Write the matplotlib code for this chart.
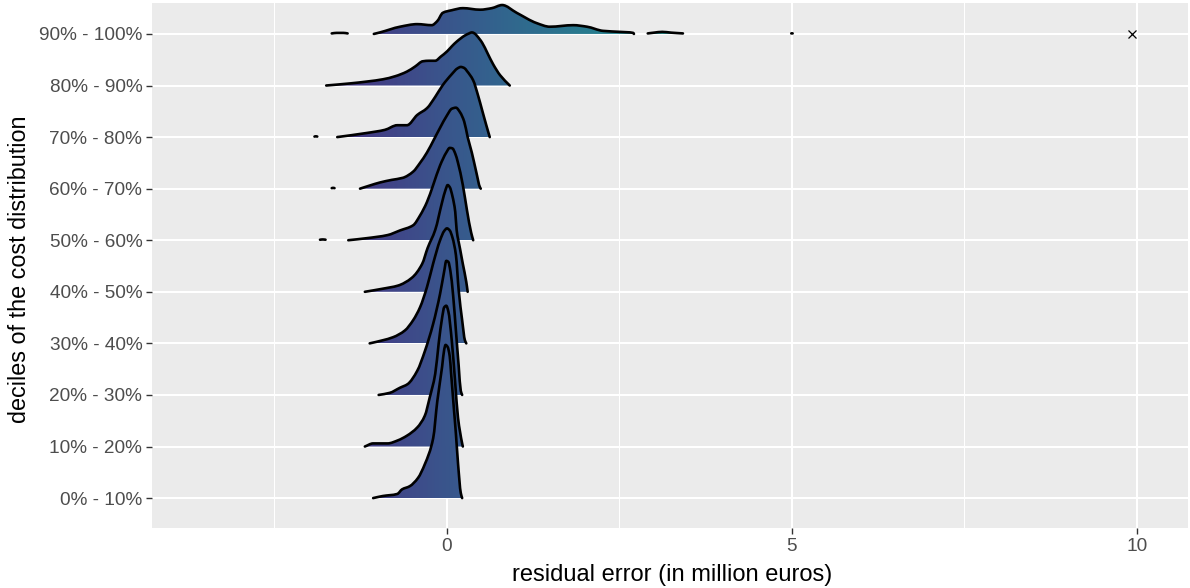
import numpy as np
import matplotlib
matplotlib.use("Agg")
import matplotlib.pyplot as plt
from matplotlib.path import Path
from matplotlib.patches import PathPatch
from matplotlib.colors import Normalize

plt.rcParams['font.family'] = ['Liberation Sans', 'DejaVu Sans']

# decile groups, bottom to top
labels = ["0% - 10%", "10% - 20%", "20% - 30%", "30% - 40%", "40% - 50%",
          "50% - 60%", "60% - 70%", "70% - 80%", "80% - 90%", "90% - 100%"]

# ridge outlines: x in million euros, h in row heights
d00_x = [-1.07, -0.93, -0.72, -0.65, -0.54, -0.42, -0.32, -0.20, -0.14, -0.07, -0.04, -0.02, 0.01, 0.04, 0.06, 0.10, 0.13, 0.16, 0.20, 0.22]
d00_h = [0, 0.04, 0.08, 0.17, 0.23, 0.39, 0.66, 1.16, 1.88, 2.55, 2.88, 2.97, 2.93, 2.75, 2.42, 1.74, 1.24, 0.68, 0.10, 0]

d10_x = [-1.19, -1.07, -0.86, -0.71, -0.58, -0.43, -0.32, -0.25, -0.17, -0.12, -0.07, -0.04, -0.01, 0.02, 0.07, 0.12, 0.16, 0.22, 0.23]
d10_h = [0, 0.06, 0.06, 0.12, 0.21, 0.37, 0.60, 0.95, 1.41, 2.00, 2.50, 2.70, 2.73, 2.62, 2.05, 1.22, 0.56, 0.06, 0]

d20_x = [-0.99, -0.83, -0.68, -0.57, -0.43, -0.32, -0.20, -0.10, -0.04, -0.01, 0.02, 0.05, 0.09, 0.13, 0.17, 0.20, 0.22]
d20_h = [0, 0.04, 0.14, 0.21, 0.47, 0.85, 1.38, 1.96, 2.40, 2.60, 2.58, 2.40, 1.92, 1.24, 0.56, 0.08, 0]

d30_x = [-1.12, -0.93, -0.78, -0.61, -0.49, -0.39, -0.29, -0.20, -0.10, -0.04, 0.0, 0.04, 0.08, 0.13, 0.17, 0.22, 0.26, 0.28]
d30_h = [0, 0.06, 0.12, 0.25, 0.45, 0.70, 1.09, 1.55, 2.00, 2.18, 2.23, 2.19, 2.05, 1.71, 1.03, 0.45, 0.06, 0]

d40_x = [-1.19, -0.93, -0.71, -0.51, -0.36, -0.28, -0.17, -0.07, -0.02, 0.01, 0.04, 0.08, 0.12, 0.14, 0.19, 0.23, 0.28, 0.30]
d40_h = [0, 0.06, 0.12, 0.27, 0.54, 0.85, 1.20, 1.74, 1.98, 2.07, 2.03, 1.85, 1.55, 1.20, 0.83, 0.54, 0.19, 0]

d50_x = [-1.43, -1.16, -0.86, -0.68, -0.49, -0.39, -0.29, -0.20, -0.10, -0.01, 0.04, 0.08, 0.12, 0.16, 0.23, 0.29, 0.35, 0.38]
d50_h = [0, 0.04, 0.10, 0.19, 0.29, 0.48, 0.74, 1.07, 1.45, 1.70, 1.79, 1.78, 1.68, 1.50, 1.07, 0.58, 0.15, 0]
d50_dot_x = [-1.84, -1.80, -1.76]
d50_dot_h = [0.01, 0.015, 0.01]

d60_x = [-1.26, -1.12, -0.97, -0.80, -0.64, -0.49, -0.39, -0.29, -0.19, -0.10, 0.0, 0.07, 0.13, 0.19, 0.25, 0.30, 0.36, 0.42, 0.48, 0.49]
d60_h = [0, 0.06, 0.12, 0.17, 0.21, 0.33, 0.50, 0.70, 0.95, 1.18, 1.42, 1.55, 1.57, 1.48, 1.30, 1.00, 0.70, 0.35, 0.02, 0]
d60_dot_x = [-1.67, -1.65, -1.63]
d60_dot_h = [0.01, 0.015, 0.01]

d70_x = [-1.59, -1.16, -0.90, -0.72, -0.58, -0.43, -0.29, -0.17, -0.06, 0.07, 0.15, 0.20, 0.25, 0.29, 0.38, 0.45, 0.51, 0.57, 0.62]
d70_h = [0, 0.08, 0.14, 0.23, 0.23, 0.43, 0.56, 0.78, 1.01, 1.22, 1.33, 1.36, 1.34, 1.28, 1.10, 0.81, 0.52, 0.23, 0]
d70_dot_x = [-1.92, -1.90, -1.88]
d70_dot_h = [0.01, 0.015, 0.01]

d80_x = [-1.75, -1.41, -1.14, -0.93, -0.75, -0.58, -0.46, -0.35, -0.26, -0.17, -0.09, 0.0, 0.07, 0.14, 0.26, 0.32, 0.36, 0.40, 0.43, 0.51, 0.59, 0.67, 0.77, 0.91]
d80_h = [0, 0.04, 0.08, 0.12, 0.18, 0.27, 0.37, 0.47, 0.48, 0.48, 0.56, 0.66, 0.76, 0.85, 0.97, 1.01, 1.03, 1.01, 0.97, 0.83, 0.62, 0.41, 0.20, 0]

d90_x = [-1.06, -0.97, -0.68, -0.43, -0.22, -0.14, -0.06, 0.07, 0.23, 0.48, 0.65, 0.80, 1.01, 1.30, 1.49, 1.83, 2.03, 2.26, 2.51, 2.70, 2.71]
d90_h = [0, 0.03, 0.14, 0.19, 0.17, 0.25, 0.41, 0.46, 0.50, 0.47, 0.50, 0.56, 0.41, 0.21, 0.14, 0.17, 0.14, 0.06, 0.04, 0.02, 0]
d90_left_x = [-1.67, -1.60, -1.50, -1.44]
d90_left_h = [0.01, 0.02, 0.02, 0.01]
d90_right_x = [2.91, 3.00, 3.12, 3.25, 3.42]
d90_right_h = [0.01, 0.025, 0.04, 0.025, 0.01]
d90_dot_x = [4.99, 5.00, 5.01]
d90_dot_h = [0.01, 0.012, 0.01]

# single extreme residual in the top decile
outlier_x = [9.93]
outlier_row = [9]

ridges = [
    [(d00_x, d00_h)],
    [(d10_x, d10_h)],
    [(d20_x, d20_h)],
    [(d30_x, d30_h)],
    [(d40_x, d40_h)],
    [(d50_x, d50_h), (d50_dot_x, d50_dot_h)],
    [(d60_x, d60_h), (d60_dot_x, d60_dot_h)],
    [(d70_x, d70_h), (d70_dot_x, d70_dot_h)],
    [(d80_x, d80_h)],
    [(d90_x, d90_h), (d90_left_x, d90_left_h), (d90_right_x, d90_right_h), (d90_dot_x, d90_dot_h)],
]


def smooth_outline(xs, ys):
    # bezier path through the read points, monotone (pchip-like) tangents
    hk = np.diff(xs)
    dk = np.diff(ys) / hk
    m = np.zeros(len(xs))
    m[0], m[-1] = dk[0], dk[-1]
    for k in range(1, len(xs) - 1):
        if dk[k - 1] * dk[k] > 0:
            w1 = 2 * hk[k] + hk[k - 1]
            w2 = hk[k] + 2 * hk[k - 1]
            m[k] = (w1 + w2) / (w1 / dk[k - 1] + w2 / dk[k])
    verts = [(xs[0], ys[0])]
    codes = [Path.MOVETO]
    for k in range(len(xs) - 1):
        h = hk[k]
        verts += [(xs[k] + h / 3, ys[k] + m[k] * h / 3),
                  (xs[k + 1] - h / 3, ys[k + 1] - m[k + 1] * h / 3),
                  (xs[k + 1], ys[k + 1])]
        codes += [Path.CURVE4] * 3
    return verts, codes


fig = plt.figure(figsize=(11.9, 5.88), dpi=100)
ax = fig.add_axes([152 / 1190, 60 / 588, 1036 / 1190, 525 / 588])
ax.set_facecolor('#EBEBEB')

norm = Normalize(-3.6, 10.06)
cmap = plt.get_cmap('viridis')

for i, segs in enumerate(ridges):
    for xs, hs in segs:
        xs = np.array(xs, dtype=float)
        top = i + np.array(hs, dtype=float)
        verts, codes = smooth_outline(xs, top)
        fverts = verts + [(xs[-1], i), (xs[0], i), (xs[0], top[0])]
        fcodes = codes + [Path.LINETO, Path.LINETO, Path.CLOSEPOLY]
        clip = PathPatch(Path(fverts, fcodes), transform=ax.transData,
                         facecolor='none', edgecolor='none')
        grad = np.linspace(xs.min(), xs.max(), 400).reshape(1, -1)
        im = ax.imshow(grad, extent=[xs.min(), xs.max(), i, top.max() + 0.05],
                       origin='lower', aspect='auto', cmap=cmap, norm=norm,
                       interpolation='bilinear', zorder=10)
        im.set_clip_path(clip)
        # outlines go over every fill, so all ridges stay visible
        ax.add_patch(PathPatch(Path(verts, codes), facecolor='none',
                               edgecolor='black', lw=1.9, zorder=20,
                               joinstyle='round', capstyle='round'))

ax.plot(outlier_x, outlier_row, marker='x', color='black', ms=6, mew=0.9,
        ls='none', zorder=40)

ax.set_xlim(-4.275, 10.74)
ax.set_ylim(-0.58, 9.60)
ax.set_xticks([0, 5, 10])
ax.set_xticklabels(['0', '5', '10'])
ax.set_xticks([-2.5, 2.5, 7.5], minor=True)
ax.set_yticks(range(len(labels)))
ax.set_yticklabels(labels)
ax.grid(which='major', color='white', lw=1.5)
ax.grid(which='minor', axis='x', color='white', lw=0.75)
ax.set_axisbelow(True)
for s in ax.spines.values():
    s.set_visible(False)
ax.tick_params(which='major', length=4, width=1, color='#333333',
               labelsize=13.7, labelcolor='#4D4D4D', pad=3)
ax.tick_params(which='minor', length=0)

fig.text(672 / 1190, 1 - 575 / 588, 'residual error (in million euros)',
         ha='center', va='center', fontsize=17)
fig.text(20 / 1190, 1 - 269 / 588, 'deciles of the cost distribution',
         ha='center', va='center', rotation=90, fontsize=16.8)

fig.savefig('out.png', dpi=100)
